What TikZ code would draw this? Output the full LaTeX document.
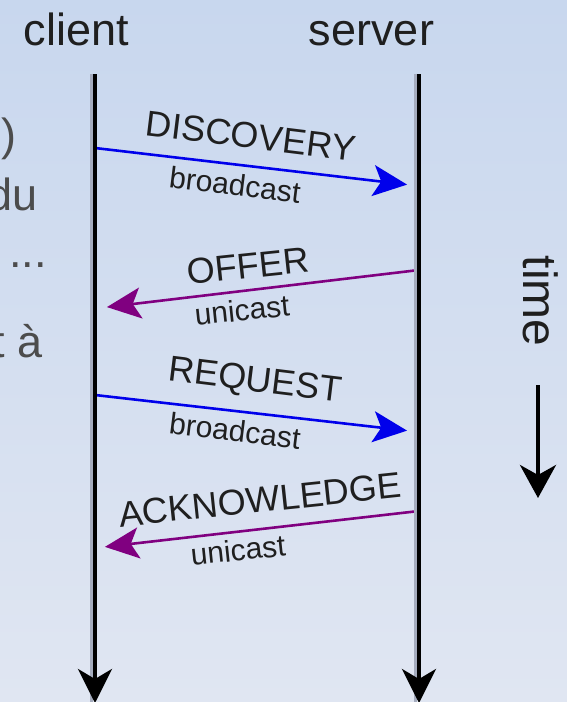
\documentclass[tikz,border=0pt]{standalone}
\usepackage{fontspec}
\setmainfont{Liberation Sans}
\usetikzlibrary{arrows.meta}
\definecolor{msgblue}{RGB}{0,0,235}
\definecolor{msgpurple}{RGB}{128,0,128}
\definecolor{bgtop}{RGB}{200,215,238}
\definecolor{bgbot}{RGB}{224,230,242}
\definecolor{halo}{RGB}{165,172,190}
\begin{document}
\begin{tikzpicture}[x=1pt,y=-1pt,every node/.style={inner sep=0pt,text=black!88},
hdr/.style={font=\fontsize{45}{54}\selectfont,anchor=base},
side/.style={font=\fontsize{45}{54}\selectfont,text=black!70,anchor=base east},
msg/.style={font=\fontsize{36}{43}\selectfont},
cast/.style={font=\fontsize{30}{36}\selectfont},
life/.style={line width=4pt,-{Stealth[length=34pt,width=34pt,inset=10pt]}},
tosrv/.style={line width=2.6pt,msgblue,-{Stealth[length=34pt,width=31pt,inset=8pt]},shorten >=12pt},
tocli/.style={line width=2.6pt,msgpurple,-{Stealth[length=34pt,width=31pt,inset=8pt]},shorten >=12pt}]
\useasboundingbox (0,0) rectangle (567,702);\clip (0,0) rectangle (567,702);
\fill[top color=bgtop,bottom color=bgbot] (0,0) rectangle (567,702);
\node[hdr] (client) at (76.5,45) {client};\node[hdr] (server) at (371.5,45) {server};
\node[side] (frag1) at (17,150) {)};\node[side] (frag2) at (38,210) {du};\node[side] (frag3) at (47,267) {...};\node[side] (frag4) at (43,357) {t à};
\coordinate (ctop) at (95,74);\coordinate (cbot) at (95,703);\coordinate (stop) at (419,74);\coordinate (sbot) at (419,703);
\coordinate (c1) at (95,148);\coordinate (s1) at (419,186);\coordinate (s2) at (419,270);\coordinate (c2) at (95,308.5);
\coordinate (c3) at (95,395);\coordinate (s3) at (419,432);\coordinate (s4) at (419,511);\coordinate (c4) at (95,548);
\draw[tosrv] (c1)--(s1);\draw[tocli] (s2)--(c2);\draw[tosrv] (c3)--(s3);\draw[tocli,shorten >=10pt] (s4)--(c4);
\node[msg,rotate=-7] (disc) at (251,136) {DISCOVERY};\node[cast,rotate=-7] (bc1) at (235,185) {broadcast};
\node[msg,rotate=6] (offer) at (248,266) {OFFER};\node[cast,rotate=6] (uc1) at (242,310) {unicast};
\node[msg,rotate=-7] (req) at (255,382) {REQUEST};\node[cast,rotate=-7] (bc2) at (235,431) {broadcast};
\node[msg,rotate=6] (ack) at (260,500) {ACKNOWLEDGE};\node[cast,rotate=6] (uc2) at (238,550) {unicast};
\draw[halo,line width=3pt] ([xshift=-3.5pt]ctop)--([xshift=-3.5pt,yshift=-25pt]cbot) ([xshift=-3.5pt]stop)--([xshift=-3.5pt,yshift=-25pt]sbot);
\draw[life] (ctop)--(cbot);\draw[life] (stop)--(sbot);
\node[font=\fontsize{48}{58}\selectfont,rotate=-90] (time) at (541,301) {time};
\coordinate (ttop) at (538,385);\coordinate (tbot) at (538,498);
\draw[line width=4pt,-{Stealth[length=33pt,width=36pt,inset=10pt]}] (ttop)--(tbot);
\end{tikzpicture}
\end{document}
